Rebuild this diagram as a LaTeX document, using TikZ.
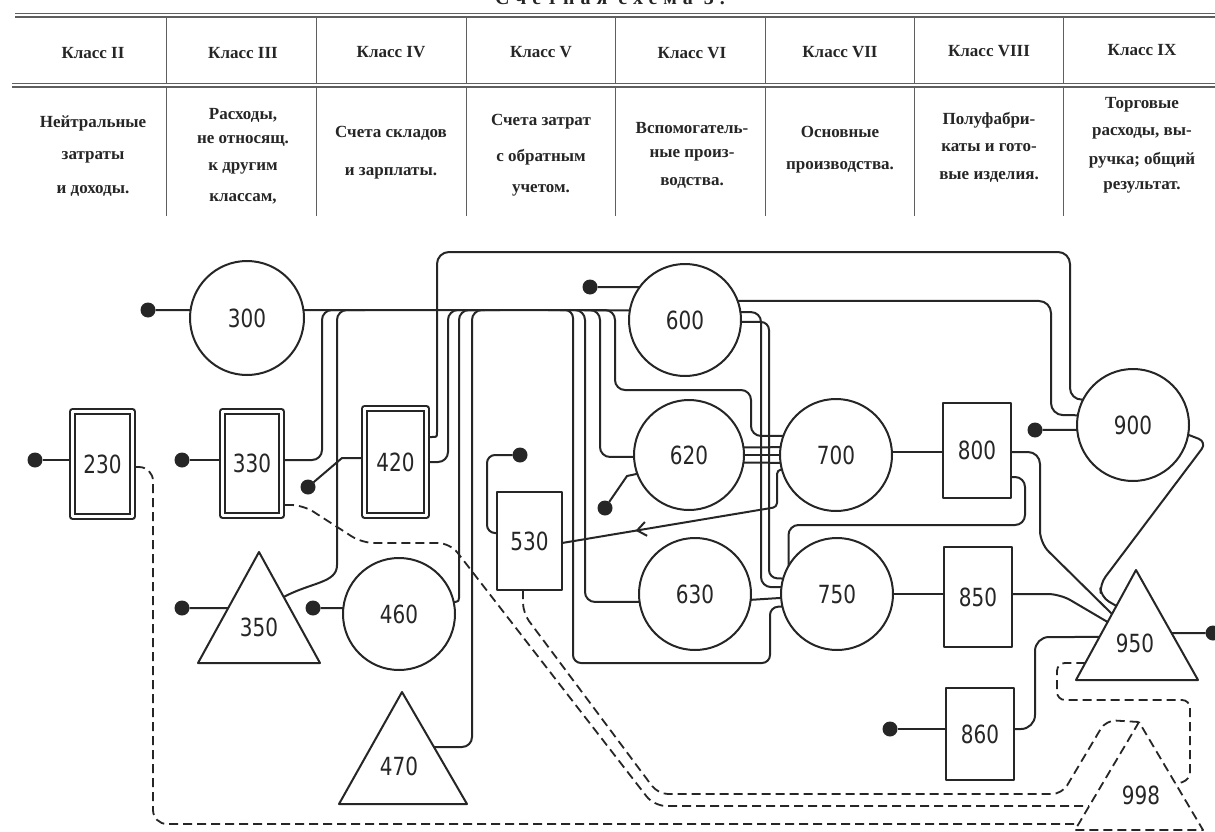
\documentclass[tikz,border=0pt]{standalone}
\usepackage{fontspec}
\setmainfont{Liberation Serif}
\newfontfamily\numfont[FakeStretch=0.8]{DejaVu Sans}
\usetikzlibrary{calc,decorations.markings,arrows.meta}
\definecolor{inkc}{RGB}{38,38,38}
\definecolor{rulec}{RGB}{95,95,95}
\begin{document}
\begin{tikzpicture}[x=1pt,y=-1pt,line join=round,
  ink/.style={draw=inkc,line width=2pt},
  rc/.style={rounded corners=10pt},
  dsh/.style={draw=inkc,line width=1.8pt,dash pattern=on 9pt off 5pt},
  dotn/.style={circle,fill=inkc,draw=none,minimum size=15pt,inner sep=0pt,outer sep=0pt},
  numf/.style={font=\numfont\fontsize{25}{25}\selectfont,text=inkc},
  circ/.style={circle,ink,numf,minimum size=112pt,inner sep=0pt,outer sep=0pt},
  sbox/.style={rectangle,ink,numf,inner sep=0pt,outer sep=0pt},
  dbox/.style={sbox,line width=1.7pt,double=white,double distance=3.6pt,outer sep=3.5pt},
  lbl/.style={numf,inner sep=0pt},
  hd/.style={font=\bfseries\fontsize{17}{17}\selectfont,text=inkc,inner sep=0pt},
  tabline/.style={draw=rulec,line width=0.8pt}
]
\useasboundingbox (0,0) rectangle (1215,832);
\fill[white] (0,0) rectangle (1215,832);

% ---------- title and table ----------
\node[font=\bfseries\fontsize{20}{20}\selectfont\addfontfeature{LetterSpace=30},anchor=base,text=inkc] (title) at (610,5) {Счетная схема 3.};
\draw[tabline] (15,13.5) -- (1215,13.5);
\draw[tabline,line width=1.2pt] (15,17) -- (1215,17);
\draw[tabline] (12,83.5) -- (1215,83.5);
\draw[tabline,line width=1.2pt] (12,87) -- (1215,87);
\foreach \x in {166,316,466,615,765,914,1063} {
  \draw[tabline] (\x,17) -- (\x,83.5);
  \draw[tabline] (\x,87) -- (\x,216);
}
\node[hd] (h2) at (93,53) {Класс II};
\node[hd] (h3) at (243,53) {Класс III};
\node[hd] (h4) at (391,52) {Класс IV};
\node[hd] (h5) at (541,52) {Класс V};
\node[hd] (h6) at (692,53) {Класс VI};
\node[hd] (h7) at (840,52) {Класс VII};
\node[hd] (h8) at (989,51) {Класс VIII};
\node[hd] (h9) at (1142,50) {Класс IX};

\node[hd] (t2a) at (93,123) {Нейтральные};
\node[hd] (t2b) at (93,157) {затраты};
\node[hd] (t2c) at (93,191) {и доходы.};
\node[hd] (t3a) at (243,115) {Расходы,};
\node[hd] (t3b) at (243,141) {не относящ.};
\node[hd] (t3c) at (243,168) {к другим};
\node[hd] (t3d) at (243,199) {классам,};
\node[hd] (t4a) at (391,133) {Счета складов};
\node[hd] (t4b) at (391,173) {и зарплаты.};
\node[hd] (t5a) at (541,122) {Счета затрат};
\node[hd] (t5b) at (541,157) {с обратным};
\node[hd] (t5c) at (541,190) {учетом.};
\node[hd] (t6a) at (692,128) {Вспомогатель-};
\node[hd] (t6b) at (692,155) {ные произ-};
\node[hd] (t6c) at (692,183) {водства.};
\node[hd] (t7a) at (840,132) {Основные};
\node[hd] (t7b) at (840,167) {производства.};
\node[hd] (t8a) at (989,120) {Полуфабри-};
\node[hd] (t8b) at (989,148) {каты и гото-};
\node[hd] (t8c) at (989,177) {вые изделия.};
\node[hd] (t9a) at (1142,105) {Торговые};
\node[hd] (t9b) at (1142,133) {расходы, вы-};
\node[hd] (t9c) at (1142,160) {ручка; общий};
\node[hd] (t9d) at (1142,187) {результат.};

% ---------- nodes ----------
\node[dbox,minimum width=60pt,minimum height=105pt] (b230) at (102.5,464) {230};
\node[dbox,minimum width=59pt,minimum height=104pt] (b330) at (252,463.5) {330};
\node[dbox,minimum width=62pt,minimum height=107pt] (b420) at (395.5,462) {420};
\node[sbox,minimum width=65pt,minimum height=98pt] (b530) at (529.5,541) {530};
\node[sbox,minimum width=68pt,minimum height=95pt] (b800) at (977,450.5) {800};
\node[sbox,minimum width=68pt,minimum height=100pt] (b850) at (978,597) {850};
\node[sbox,minimum width=68pt,minimum height=92pt] (b860) at (980,734) {860};

\node[circ,minimum size=114pt] (c300) at (247,318) {300};
\node[circ] (c460) at (399,614) {460};
\node[circ] (c600) at (685,320) {600};
\node[circ,minimum size=110pt] (c620) at (689,455) {620};
\node[circ] (c630) at (695,594) {630};
\node[circ] (c700) at (836,455) {700};
\node[circ] (c750) at (837,594) {750};
\node[circ] (c900) at (1133,425) {900};

% triangles
\coordinate (A350) at (259,552); \coordinate (L350) at (198,663); \coordinate (R350) at (320,663);
\coordinate (A470) at (402,692); \coordinate (L470) at (339,804); \coordinate (R470) at (467,804);
\coordinate (A950) at (1136,570); \coordinate (L950) at (1076,680); \coordinate (R950) at (1198,680);
\coordinate (A998) at (1139,722); \coordinate (L998) at (1075,830); \coordinate (R998) at (1203,830);
\draw[ink] (A350) -- (L350) -- (R350) -- cycle;
\draw[ink] (A470) -- (L470) -- (R470) -- cycle;
\draw[ink] (A950) -- (L950) -- (R950) -- cycle;
\draw[dsh] (A998) -- (L998) -- (R998) -- cycle;
\node[lbl] (n350) at (259,627) {350};
\node[lbl] (n470) at (399,766) {470};
\node[lbl] (n950) at (1135,643) {950};
\node[lbl] (n998) at (1141,795) {998};

\coordinate (p350l) at ($(A350)!0.5045!(L350)$);
\coordinate (p350r) at ($(A350)!0.405!(R350)$);
\coordinate (p470r) at ($(A470)!0.491!(R470)$);
\coordinate (p950a) at ($(A950)!0.4!(L950)$);
\coordinate (p950b) at ($(A950)!0.473!(L950)$);
\coordinate (p950c) at ($(A950)!0.327!(L950)$);
\coordinate (p950d) at ($(A950)!0.609!(L950)$);
\coordinate (p950e) at ($(A950)!0.573!(R950)$);
\coordinate (p950f) at ($(A950)!0.845!(L950)$);
\coordinate (p998a) at ($(A998)!0.944!(L998)$);
\coordinate (p998b) at ($(A998)!0.778!(L998)$);
\coordinate (p998c) at ($(A998)!0.574!(R998)$);

% dots
\node[dotn] (d230) at (35,460) {};
\node[dotn] (d330) at (182,460) {};
\node[dotn] (d300) at (148,310) {};
\node[dotn] (d350) at (182,608) {};
\node[dotn] (d420) at (308,487) {};
\node[dotn] (d460) at (313,608) {};
\node[dotn] (d530) at (520,455) {};
\node[dotn] (d600) at (590,287) {};
\node[dotn] (d620) at (605,508) {};
\node[dotn] (d900) at (1035,430) {};
\node[dotn] (d860) at (890,729) {};
\node[dotn] (d950) at (1213,633) {};

% ---------- solid connectors ----------
\draw[ink] (d230) -- (b230.west |- d230);
\draw[ink] (d330) -- (b330.west |- d330);
\draw[ink] (d300) -- (c300.172);
\draw[ink] (d350) -- (p350l);
\draw[ink] (d460) -- (c460.174);
\draw[ink] (d600) -- (c600.144);
\draw[ink] (d420) -- (342,458) -- (b420.west |- 0,458);
\draw[ink,rounded corners=8pt] (d530) -- (487,455) -- (487,533) -- (b530.west |- 0,533);
\draw[ink] (d620) -- (627,476) -- (c620.200);
\draw[ink] (d900) -- (c900.185);
\draw[ink] (d860) -- (b860.west |- d860);
\draw[ink] (p950e) -- (d950);

% trunk
\draw[ink] (c300.8) -- (c600.170);
\draw[ink,rc] (b330.east |- 0,460) -- (322,460) -- (322,310) -- (345,310);
\draw[ink,rc] (p350r) .. controls (312,582) and (337,583) .. (337,555) -- (337,310) -- (365,310);
\draw[ink] (b420.east |- 0,437) -- (432,437) .. controls (437,437) .. (437,432);
\draw[ink,rounded corners=12pt] (437,432) -- (437,252) -- (1070,252) -- (1070,400) -- (c900.153);
\draw[ink,rc] (b420.east |- 0,462) -- (448,462) -- (448,310) -- (475,310);
\draw[ink,rc] (c460.12) .. controls (459,601) .. (459,588) -- (459,310) -- (485,310);
\draw[ink,rc] (p470r) -- (472,747) -- (472,310) -- (500,310);
\draw[ink,rounded corners=8pt] (548,310) -- (573,310) -- (573,663) -- (770,663) -- (770,607) -- (c750.193);
\draw[ink,rc] (560,310) -- (585,310) -- (585,602) -- (c630.188);
\draw[ink,rc] (575,310) -- (600,310) -- (600,457) -- (c620.182);
\draw[ink,rc] (590,310) -- (615,310) -- (615,390) -- (751,390) -- (751,436) -- (c700.160);

% 600 outputs
\draw[ink,rounded corners=12pt] (c600.20) -- (1051,301) -- (1051,415) -- (c900.170);
\draw[ink,rc] (c600.8) -- (761,312) -- (761,587) -- (c750.173);
\draw[ink,rounded corners=8pt] (c600.358) -- (769,322) -- (769,578) -- (c750.164);

% 620 -> 700
\draw[ink] (c620.8) -- (c700.172);
\draw[ink] (c620.east) -- (c700.west);
\draw[ink] (c620.352) -- (c700.188);

% 630 -> 750
\draw[ink] (c630.354) -- (c750.184);

% 700 -> 530 with arrow
\draw[ink,rounded corners=4pt,postaction={decorate},
  decoration={markings,mark=at position 0.71 with {\arrow{Straight Barb[length=9pt,width=14pt]}}}]
  (c700.195) -- (777,470) -- (777,507) -- (b530.east |- 0,543);

% 700 -> 800, 750 -> 850
\draw[ink] (c700.3) -- (b800.west |- c700.3);
\draw[ink] (c750.east) -- (b850.west |- c750.east);

% 800 lower -> 750
\draw[ink,rc] (b800.east |- 0,477) -- (1025,477) -- (1025,525) -- (788.5,525) -- (c750.150);

% into 950
\draw[ink,rounded corners=12pt] (b800.east |- 0,452) -- (1040,452) -- (1040,543) -- (p950a);
\draw[ink,rounded corners=12pt] (b850.east |- 0,594) -- (1060,594) -- (p950b);
\draw[ink,rounded corners=9pt] (c900.350) -- (1207,442) -- (1100,584) -- (1101,597) -- (p950c);
\draw[ink,rounded corners=14pt] (b860.east |- d860) -- (1035,729) -- (1035,637) -- (p950d);

% ---------- dashed connectors ----------
\draw[dsh,rounded corners=14pt] (b230.east |- 0,467) -- (153,467) -- (153,824) -- (p998a);
\draw[dsh,rounded corners=12pt] (b330.east |- 0,505) -- (303,505) -- (362,543) -- (450,543) -- (654,806) -- (p998b);
\draw[dsh,rounded corners=10pt] (b530.south -| 523,0) -- (523,613) -- (658,794) -- (1062,794) -- (1106,720) -- (A998);
\draw[dsh,rounded corners=8pt] (p950f) -- (1057,663) -- (1057,700) -- (1190,700) -- (1190,780) -- (p998c);

\end{tikzpicture}
\end{document}
